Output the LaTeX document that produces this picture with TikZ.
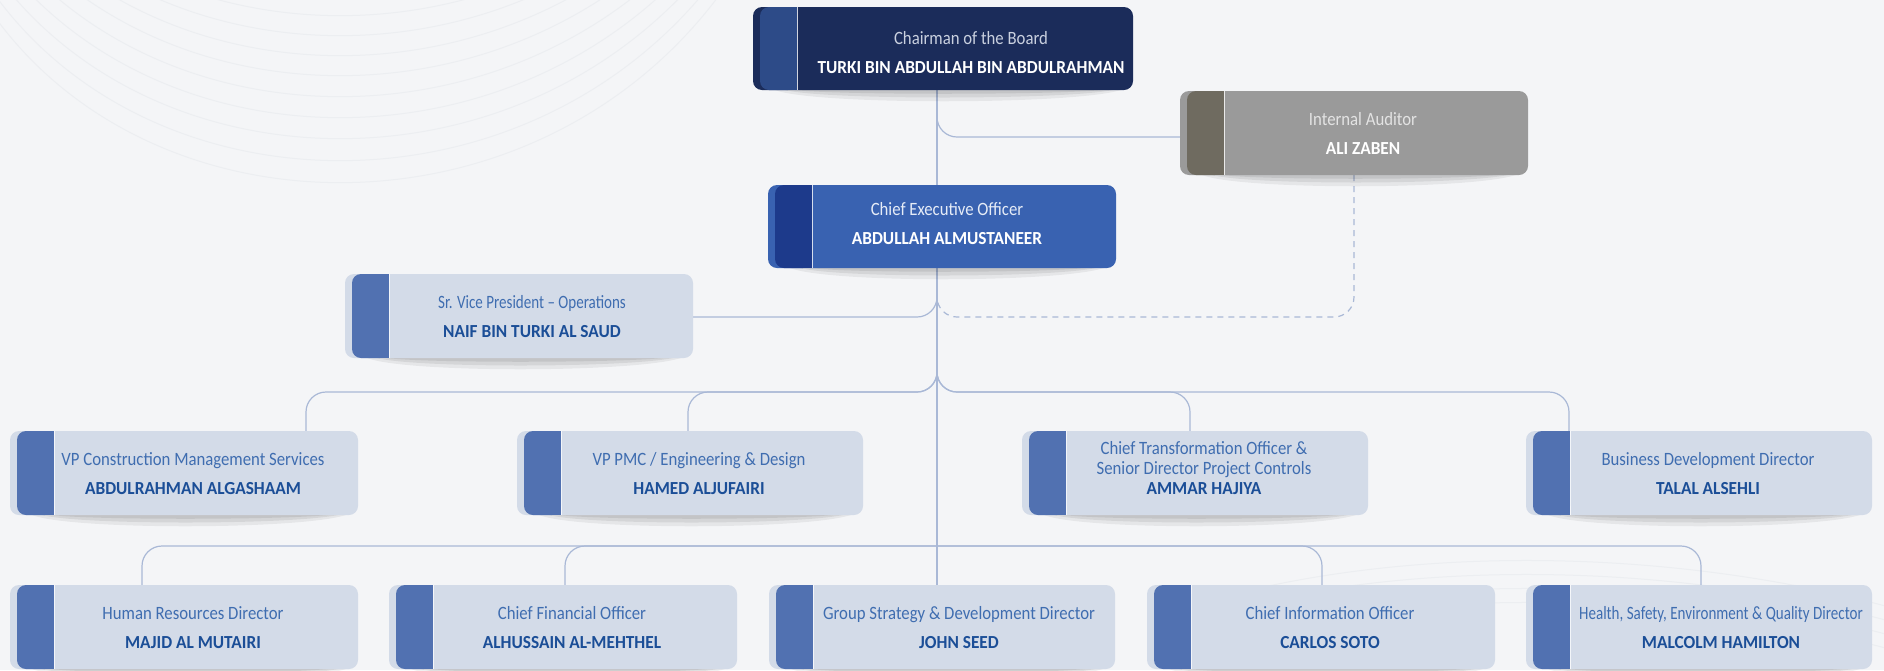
\documentclass[tikz,border=0pt]{standalone}
\usepackage{fontspec}
\setmainfont{Carlito}
\newfontfamily\titlefont[FakeStretch=0.89]{Carlito}
\newfontfamily\narrowtitlefont[FakeStretch=0.80]{Carlito}
\newfontfamily\namefont[FakeStretch=0.94]{Carlito}
\usetikzlibrary{fit}
\definecolor{bgc}{HTML}{F4F5F7}
\definecolor{swirl}{HTML}{ECEEF1}
\definecolor{conn}{HTML}{A9B8D6}
\definecolor{ltfill}{HTML}{D3DBE8}
\definecolor{ltstrip}{HTML}{5171B1}
\definecolor{lttitle}{HTML}{3F6DB0}
\definecolor{ltname}{HTML}{1B4E97}
\definecolor{chfill}{HTML}{1B2C5A}
\definecolor{chstrip}{HTML}{2D4B88}
\definecolor{chtitle}{HTML}{C9D0DF}
\definecolor{chname}{HTML}{FFFFFF}
\definecolor{aufill}{HTML}{9A9A9A}
\definecolor{austrip}{HTML}{6F6B60}
\definecolor{autitle}{HTML}{E3E3E3}
\definecolor{auname}{HTML}{FFFFFF}
\definecolor{cefill}{HTML}{3962B1}
\definecolor{cestrip}{HTML}{1D3A8B}
\definecolor{cetitle}{HTML}{E6ECF7}
\definecolor{cename}{HTML}{FFFFFF}
\tikzset{
  conline/.style={draw=conn, line width=0.6pt, rounded corners=10pt},
  dashline/.style={draw=conn, line width=0.6pt, rounded corners=10pt, dash pattern=on 3pt off 2.5pt},
  orgbox/.style={inner sep=0pt, outer sep=0pt, rounded corners=4.5pt},
  titletext/.style={font=\titlefont\fontsize{9.4}{10.5}\selectfont, anchor=base, inner sep=0pt},
  nametext/.style={font=\namefont\fontsize{9.2}{10.5}\selectfont\bfseries, anchor=base, inner sep=0pt},
  swirlline/.style={draw=swirl, line width=0.5pt},
}
\newcommand{\orgshadow}[4]{%
  \fill[black, opacity=0.06] (#1+22,#4) .. controls (#1+60,#4+15) and (#3-60,#4+15) .. (#3-12,#4) -- cycle;
  \fill[black, opacity=0.07] (#1+32,#4) .. controls (#1+70,#4+10) and (#3-70,#4+10) .. (#3-20,#4) -- cycle;
  \fill[black, opacity=0.08] (#1+42,#4) .. controls (#1+80,#4+5) and (#3-80,#4+5) .. (#3-30,#4) -- cycle;
}
% #1 id, #2 left, #3 top, #4 right, #5 bottom, #6 scheme, #7 title, #8 name, #9 text shift dx,dy
\newcommand{\orgnode}[9]{%
  \orgshadow{#2}{#3}{#4}{#5}
  \node[orgbox, fill=#6fill, fit={(#2,#3) (#4,#5)}] (#1) {};
  \fill[#6strip, rounded corners=4.5pt] (#2+7,#3) rectangle (#2+44,#5);
  \fill[#6strip] (#2+25,#3) rectangle (#2+44,#5);
  \draw[white, opacity=0.8, line width=0.5pt] (#2+44,#3) -- (#2+44,#5);
  \node[titletext, text=#6title, shift={(#9)}] (#1-t) at ({(#2+#4)/2+9},#3+34) {#7};
  \node[nametext, text=#6name, shift={(#9)}] (#1-n) at ({(#2+#4)/2+9},#3+63) {#8};
}
\begin{document}
\begin{tikzpicture}[x=0.5pt, y=-0.5pt]
\useasboundingbox (0,0) rectangle (1884,670);
\fill[bgc] (0,0) rectangle (1884,670);
% background swirls
\foreach \m in {225,203,181,160,139,118,98,78,58} {
  \draw[swirlline] (-20,\m-230) .. controls (140,\m+25) and (560,\m+25) .. (740,\m-260);
}
\foreach \r in {0,14,28,42} {
  \draw[swirlline] (1150,620+\r) .. controls (1350,545+\r) and (1650,540+\r) .. (1900,610+\r);
}
% named anchor points
\coordinate (trunk) at (937,0);
\coordinate (audin) at (1180,137);
\coordinate (dashtop) at (1354,175);
\coordinate (dashbend) at (1354,317);
\coordinate (bus2) at (937,392);
\coordinate (bus3) at (937,546);
\coordinate (vpcin) at (306,431);
\coordinate (pmcin) at (688,431);
\coordinate (ctoin) at (1190,431);
\coordinate (bddin) at (1569,431);
\coordinate (hrin) at (142,585);
\coordinate (cfoin) at (565,585);
\coordinate (cioin) at (1322,585);
\coordinate (hsein) at (1701,585);
% connectors
\draw[conline] (937,90) -- (937,585);
\draw[conline] (937,90) -- (trunk |- audin) -- (audin);
\draw[conline] (937,268) -- (937,317) -- (693,317);
\draw[dashline] (dashtop) -- (dashbend) -- (937,317) -- (937,295);
\foreach \p in {vpcin,pmcin,ctoin,bddin} {
  \draw[conline] (937,355) -- (bus2) -- (bus2 -| \p) -- (\p);
}
\foreach \p in {hrin,cfoin,cioin,hsein} {
  \draw[conline] (bus3) -- (bus3 -| \p) -- (\p);
}
% boxes
\orgnode{chair}{753}{7}{1133}{90}{ch}{Chairman of the Board}{TURKI BIN ABDULLAH BIN ABDULRAHMAN}{19,3}
\orgnode{aud}{1180}{91}{1528}{175}{au}{Internal Auditor}{ALI ZABEN}{0,0}
\orgnode{ceo}{768}{185}{1116}{268}{ce}{Chief Executive Officer}{ABDULLAH ALMUSTANEER}{-4,-4}
\orgnode{svp}{345}{274}{693}{358}{lt}{\narrowtitlefont Sr. Vice President – Operations}{NAIF BIN TURKI AL SAUD}{4,0}
\orgnode{vpc}{10}{431}{358}{515}{lt}{VP Construction Management Services}{ABDULRAHMAN ALGASHAAM}{0,0}
\orgnode{pmc}{517}{431}{863}{515}{lt}{VP PMC / Engineering \& Design}{HAMED ALJUFAIRI}{0,0}
\orgnode{cto}{1022}{431}{1368}{515}{lt}{}{AMMAR HAJIYA}{0,0}
\node[titletext, text=lttitle] (cto-t1) at (1204,454) {Chief Transformation Officer \&};
\node[titletext, text=lttitle] (cto-t2) at (1204,474) {Senior Director Project Controls};
\orgnode{bdd}{1526}{431}{1872}{515}{lt}{Business Development Director}{TALAL ALSEHLI}{0,0}
\orgnode{hr}{10}{585}{358}{669}{lt}{Human Resources Director}{MAJID AL MUTAIRI}{0,0}
\orgnode{cfo}{389}{585}{737}{669}{lt}{Chief Financial Officer}{ALHUSSAIN AL-MEHTHEL}{0,0}
\orgnode{gsd}{769}{585}{1115}{669}{lt}{Group Strategy \& Development Director}{JOHN SEED}{8,0}
\orgnode{cio}{1147}{585}{1495}{669}{lt}{Chief Information Officer}{CARLOS SOTO}{0,0}
\orgnode{hse}{1526}{585}{1872}{669}{lt}{\narrowtitlefont Health, Safety, Environment \& Quality Director}{MALCOLM HAMILTON}{13,0}
\end{tikzpicture}
\end{document}
